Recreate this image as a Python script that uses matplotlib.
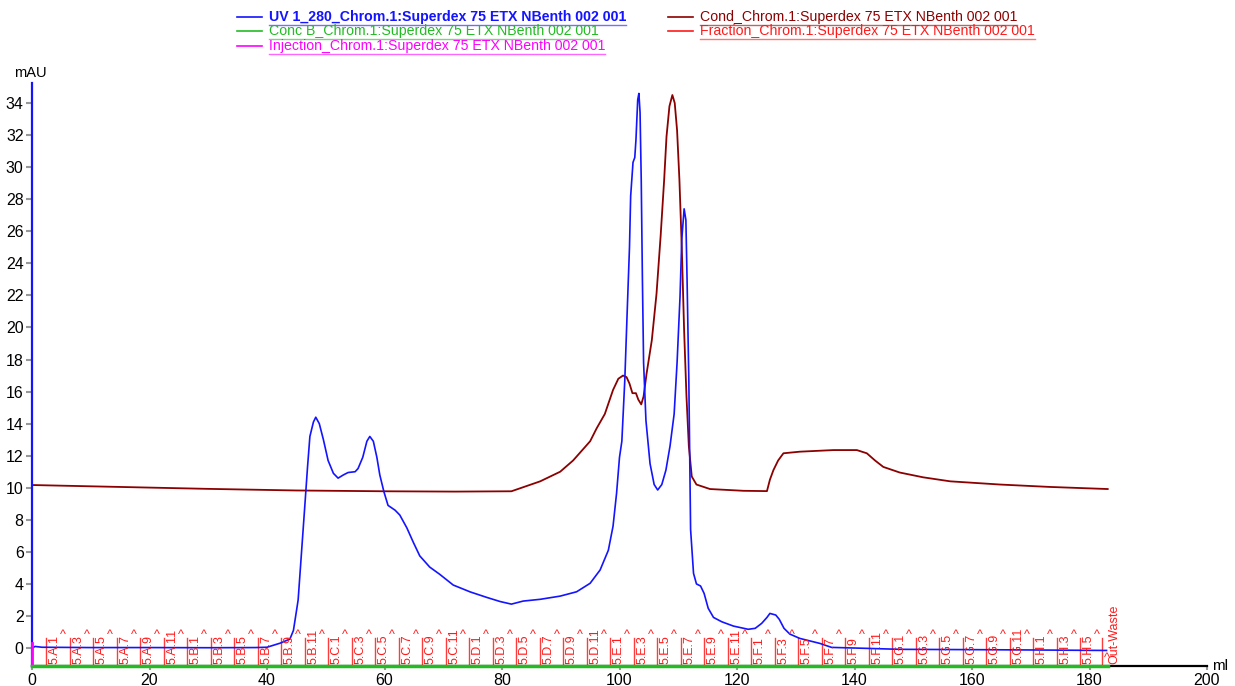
import matplotlib.pyplot as plt
import numpy as np
from matplotlib.lines import Line2D

# UV 1_280 trace (ml, mAU)
uv_ml = [0.0, 0.5, 1.7, 10, 20, 30, 38, 40, 42.2, 43.9, 44.5, 45.05, 45.3, 45.9, 46.5, 46.9,
         47.3, 47.9, 48.3, 48.9, 49.6, 50.4, 51.3, 52.1, 53.0, 53.8, 55.0, 55.5, 56.3, 57.0,
         57.5, 58.1, 58.7, 59.2, 59.9, 60.6, 61.8, 62.6, 63.8, 64.9, 66.0, 67.7, 69.4, 71.7,
         74.6, 77.4, 79.7, 81.6, 83.6, 86.5, 89.9, 92.7, 95.0, 96.7, 98.1, 98.9, 99.5, 100.0,
         100.4, 100.9, 101.3, 101.7, 101.9, 102.3, 102.6, 102.8, 103.1, 103.3, 103.5, 103.7,
         103.9, 104.1, 104.5, 105.2, 105.9, 106.5, 107.2, 107.9, 108.6, 109.3, 109.8, 110.3,
         110.6, 111.0, 111.3, 111.5, 111.8, 112.1, 112.6, 113.1, 113.8, 114.4, 115.1, 116.0,
         117.4, 119.4, 121.9, 123.1, 124.2, 125.1, 125.6, 126.6, 127.2, 128.0, 129.0, 130.7,
         134.1, 136.1, 142.1, 147.7, 160, 170, 182.9]
uv_mau = [-0.02, 0.1, 0.05, 0.03, 0.03, 0.02, 0.03, 0.05, 0.3, 0.56, 1.1, 2.4, 3.0, 6.1, 9.2,
          11.3, 13.2, 14.1, 14.4, 14.0, 13.0, 11.7, 10.9, 10.6, 10.8, 10.95, 11.0, 11.2, 11.9,
          12.9, 13.2, 12.9, 11.9, 10.8, 9.75, 8.9, 8.6, 8.3, 7.5, 6.6, 5.75, 5.05, 4.6, 3.93,
          3.5, 3.16, 2.9, 2.74, 2.93, 3.04, 3.24, 3.51, 4.04, 4.87, 6.1, 7.6, 9.65, 11.9,
          12.9, 16.7, 20.9, 25.0, 28.2, 30.3, 30.6, 31.7, 34.2, 34.6, 33.4, 29.2, 23.0, 17.8,
          14.2, 11.5, 10.2, 9.86, 10.2, 11.1, 12.6, 14.6, 17.8, 21.9, 25.5, 27.4, 26.7, 23.0,
          16.7, 7.4, 4.66, 4.0, 3.87, 3.41, 2.48, 1.91, 1.64, 1.37, 1.17, 1.23, 1.54, 1.91,
          2.16, 2.06, 1.79, 1.23, 0.87, 0.6, 0.29, 0.04, -0.02, -0.08, -0.1, -0.12, -0.15]

# Cond trace, drawn in the same display units as the picture
cond_ml = [0.0, 15, 30, 45, 60, 72, 81.6, 86.5, 89.9, 92.1, 95.0, 96.1, 97.5, 98.9, 99.8,
           100.6, 101.2, 101.7, 102.2, 102.8, 103.2, 103.7, 104.1, 104.6, 105.5, 106.3,
           107.0, 107.6, 108.0, 108.5, 109.0, 109.4, 109.8, 110.2, 110.6, 111.0, 111.4,
           111.8, 112.3, 113.1, 115.4, 121.1, 125.1, 125.6, 126.2, 127.0, 127.9, 130.7,
           136.4, 140.4, 142.1, 143.5, 144.9, 147.7, 151.7, 156.3, 164.8, 173.3, 183.1]
cond_val = [10.17, 10.05, 9.93, 9.83, 9.78, 9.76, 9.78, 10.4, 11.0, 11.7, 12.9, 13.7, 14.6,
            16.1, 16.8, 17.0, 16.9, 16.5, 15.9, 15.9, 15.5, 15.2, 15.7, 17.1, 19.2, 22.1,
            25.7, 29.2, 31.9, 33.8, 34.5, 34.0, 32.3, 29.2, 25.0, 19.8, 15.7, 12.6, 10.7,
            10.2, 9.92, 9.81, 9.79, 10.5, 11.1, 11.7, 12.15, 12.25, 12.35, 12.35, 12.15,
            11.7, 11.3, 10.95, 10.65, 10.4, 10.2, 10.05, 9.92]

# Conc B stays at 0 % (bottom of its scale)
concb_ml = [0.0, 183.1]
concb_pct = [0.0, 0.0]

# Fractions
frac_labels = []
for row in "ABCDEFG":
    for n in [1, 3, 5, 7, 9, 11]:
        frac_labels.append(f"5.{row}.{n}")
for n in [1, 3, 5]:
    frac_labels.append(f"5.H.{n}")
frac_ml = [2.4, 6.4, 10.4, 14.4, 18.4, 22.4, 26.4, 30.4, 34.4, 38.4, 42.4, 46.4, 50.4, 54.4,
           58.4, 62.4, 66.4, 70.4, 74.4, 78.4, 82.4, 86.4, 90.4, 94.4, 98.4, 102.4, 106.4,
           110.4, 114.4, 118.4, 122.4, 126.4, 130.4, 134.4, 138.4, 142.4, 146.4, 150.4,
           154.4, 158.4, 162.4, 166.4, 170.4, 174.4, 178.4]
waste_ml = 182.1

UV_C = '#1414ff'
COND_C = '#8b0000'
FRAC_C = '#ff1a1a'
CONCB_C = '#22bb22'
INJ_C = '#ff00ff'

plt.rcParams['font.family'] = ['Liberation Sans', 'DejaVu Sans']

fig = plt.figure(figsize=(12.35, 6.86), dpi=100)
ax = fig.add_axes([32 / 1235, 20 / 686, 1175 / 1235, 583 / 686])
ymin, ymax = -1.12, 35.25
ax.set_xlim(0, 200)
ax.set_ylim(ymin, ymax)

# fraction marks
for x, lab in zip(frac_ml, frac_labels):
    ax.plot([x, x], [ymin, 0.64], color=FRAC_C, lw=1.0, alpha=0.85)
    ax.text(x + 1.45, ymin + 0.1, lab, rotation=90, ha='center', va='bottom',
            color=FRAC_C, fontsize=9)
    ax.text(x + 2.9, 0.45, '^', ha='center', va='bottom', color=FRAC_C, fontsize=9)
ax.plot([waste_ml, waste_ml], [ymin, 0.64], color=FRAC_C, lw=1.0, alpha=0.85)
ax.text(waste_ml + 0.9, ymin + 0.1, '^', ha='center', va='bottom', color=FRAC_C, fontsize=9)
ax.text(waste_ml + 2.2, ymin + 0.1, 'Out-Waste', rotation=90, ha='center', va='bottom',
        color=FRAC_C, fontsize=9)

ax.plot(cond_ml, cond_val, color=COND_C, lw=1.3)
ax.plot(uv_ml, uv_mau, color=UV_C, lw=1.2)
ax.plot(concb_ml, np.array(concb_pct) + ymin, color=CONCB_C, lw=2.5, clip_on=False, zorder=5)
ax.plot([0, 0], [ymin, 0.3], color=INJ_C, lw=2, clip_on=False, zorder=4)

for s in ['top', 'right']:
    ax.spines[s].set_visible(False)
ax.spines['left'].set_color(UV_C)
ax.spines['left'].set_linewidth(1.6)
ax.spines['bottom'].set_linewidth(1.6)

ax.set_xticks(np.arange(0, 201, 20))
ax.set_xticks(np.arange(0, 201, 5), minor=True)
ax.set_yticks(np.arange(0, 35, 2))
ax.set_yticks(np.arange(-1, 35.1, 0.5), minor=True)
ax.tick_params(axis='both', which='major', color='#999999', length=4, width=1.5,
               labelsize=11.5, pad=2)
ax.tick_params(axis='both', which='minor', color='#999999', length=2, width=1.5,
               direction='inout')
ax.tick_params(axis='x', which='major', direction='out', length=3)

fig.text(30 / 1235, 1 - 73 / 686, 'mAU', ha='center', va='center', fontsize=10.5)
fig.text(1212 / 1235, 1 - 666 / 686, 'ml', ha='left', va='center', fontsize=11)

# legend at the top, drawn by hand with underlined entries
legend_items = [
    (237, 17, UV_C, 'UV 1_280_Chrom.1:Superdex 75 ETX NBenth 002 001', 'bold'),
    (668, 17, COND_C, 'Cond_Chrom.1:Superdex 75 ETX NBenth 002 001', 'normal'),
    (237, 31, CONCB_C, 'Conc B_Chrom.1:Superdex 75 ETX NBenth 002 001', 'normal'),
    (668, 31, FRAC_C, 'Fraction_Chrom.1:Superdex 75 ETX NBenth 002 001', 'normal'),
    (237, 46, INJ_C, 'Injection_Chrom.1:Superdex 75 ETX NBenth 002 001', 'normal'),
]
texts = []
for px, py, c, lab, w in legend_items:
    yf = 1 - py / 686
    fig.add_artist(Line2D([px / 1235, (px + 25) / 1235], [yf, yf], color=c, lw=1.2))
    t = fig.text((px + 32) / 1235, yf, lab, color=c, fontsize=10.2, fontweight=w,
                 ha='left', va='center')
    texts.append((t, c))

fig.canvas.draw()
inv = fig.transFigure.inverted()
for t, c in texts:
    bb = t.get_window_extent().transformed(inv)
    fig.add_artist(Line2D([bb.x0, bb.x1], [bb.y0 - 0.0015, bb.y0 - 0.0015], color=c, lw=1.0,
                          alpha=0.6))

fig.savefig('out.png', dpi=100)
